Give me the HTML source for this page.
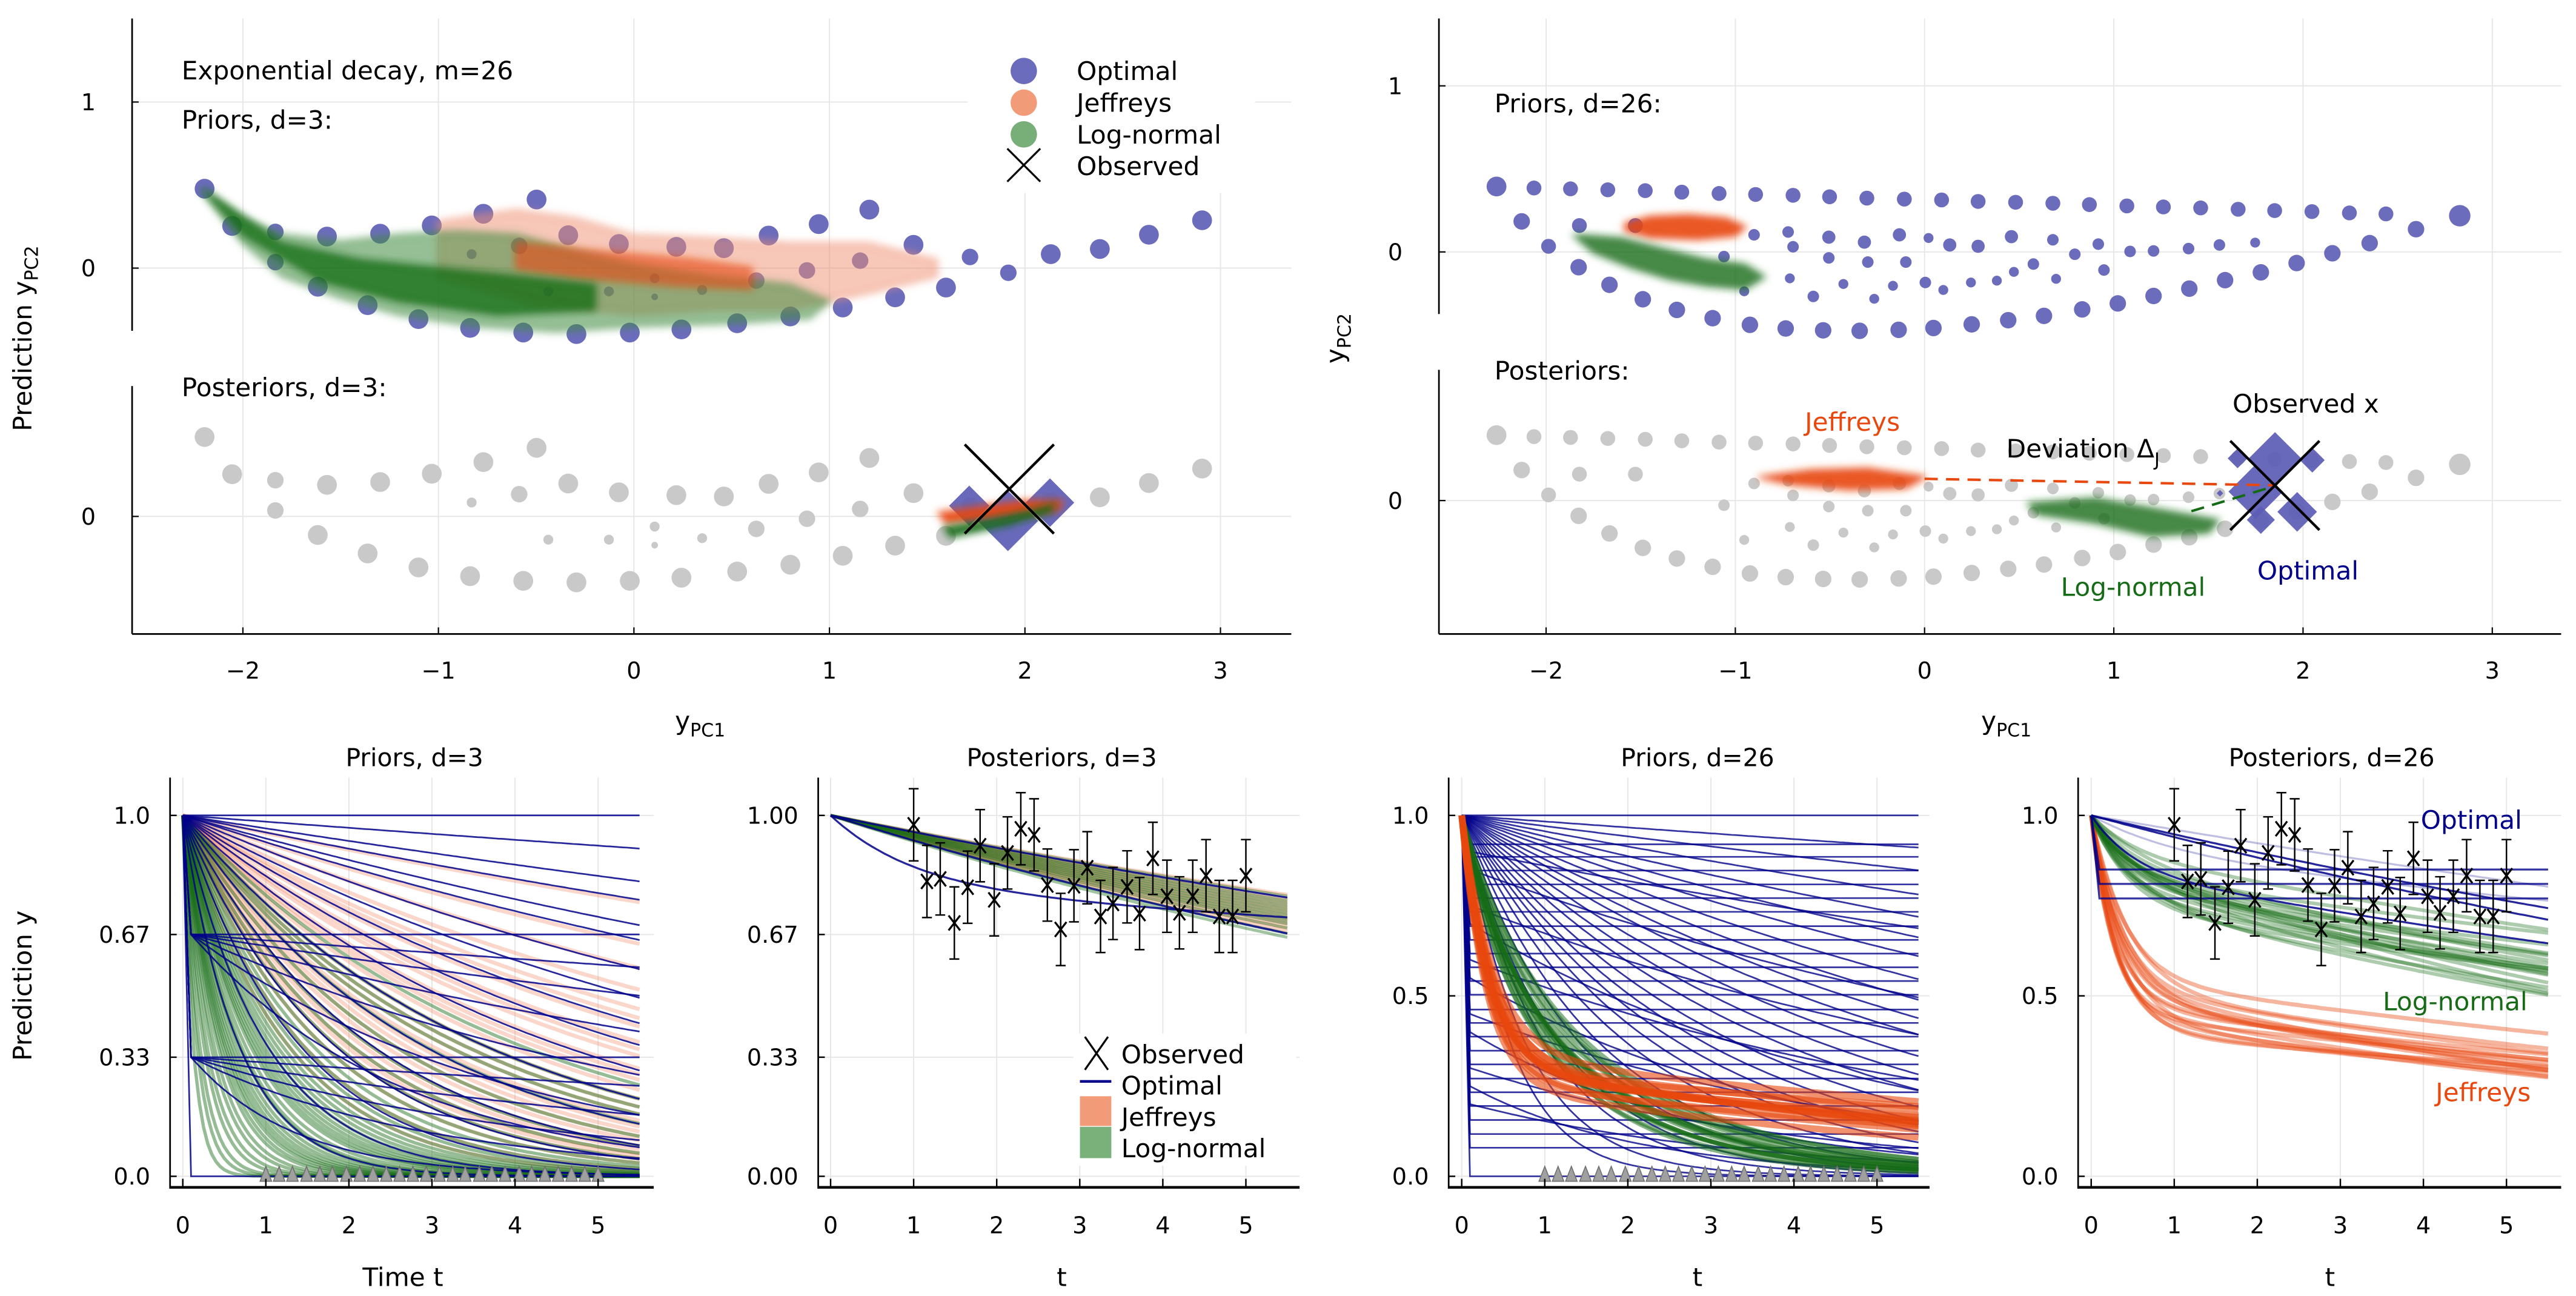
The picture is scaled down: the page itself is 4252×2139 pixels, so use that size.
<!DOCTYPE html>
<html><head><meta charset="utf-8">
<style>
html,body{margin:0;padding:0;background:#fff}
svg{display:block}
text{font-family:"DejaVu Sans","Liberation Sans",sans-serif;fill:#000}
</style></head>
<body>
<svg id="fig" xmlns="http://www.w3.org/2000/svg" width="4252" height="2139" viewBox="0 0 1560 785" preserveAspectRatio="none">
<defs><filter id="soft" x="-20%" y="-50%" width="140%" height="200%"><feGaussianBlur stdDeviation="2.2"/></filter></defs>
<rect x="0" y="0" width="1560" height="785" fill="#fff"/>
<g id="grid"></g>
<g id="marks"></g>
<g id="axes"></g>
<g id="labels">
  <text x="110" y="48" font-size="15.5">Exponential decay, m=26</text>
  <text x="110" y="78" font-size="15.5">Priors, d=3:</text>
  <text x="110" y="240" font-size="15.5">Posteriors, d=3:</text>
  <text x="905" y="68" font-size="15.5">Priors, d=26:</text>
  <text x="905" y="230" font-size="15.5">Posteriors:</text>
  <text x="1352" y="250" font-size="15.5">Observed x</text>
  <text x="1215" y="277" font-size="15.5">Deviation Δ<tspan dy="5" font-size="11">J</tspan></text>
  <text x="1093" y="261" font-size="15.5" style="fill:#e8470e">Jeffreys</text>
  <text x="1248" y="361" font-size="15.5" style="fill:#176b17">Log-normal</text>
  <text x="1367" y="351" font-size="15.5" style="fill:#00008b">Optimal</text>
  <text transform="translate(19,205) rotate(-90)" text-anchor="middle" font-size="15.5">Prediction y<tspan dy="4" font-size="11">PC2</tspan></text>
  <text transform="translate(814,205) rotate(-90)" text-anchor="middle" font-size="15.5">y<tspan dy="4" font-size="11">PC2</tspan></text>
  <text x="424" y="442" text-anchor="middle" font-size="15.5">y<tspan dy="4" font-size="11">PC1</tspan></text>
  <text x="1215" y="442" text-anchor="middle" font-size="15.5">y<tspan dy="4" font-size="11">PC1</tspan></text>
  <text x="251" y="464" text-anchor="middle" font-size="15">Priors, d=3</text>
  <text x="643" y="464" text-anchor="middle" font-size="15">Posteriors, d=3</text>
  <text x="1028" y="464" text-anchor="middle" font-size="15">Priors, d=26</text>
  <text x="1412" y="464" text-anchor="middle" font-size="15">Posteriors, d=26</text>
  <text x="244" y="779" text-anchor="middle" font-size="15.5">Time t</text>
  <text x="643" y="779" text-anchor="middle" font-size="15.5">t</text>
  <text x="1028" y="779" text-anchor="middle" font-size="15.5">t</text>
  <text x="1411" y="779" text-anchor="middle" font-size="15.5">t</text>
  <text transform="translate(19,597) rotate(-90)" text-anchor="middle" font-size="15.5">Prediction y</text>
  <text x="1466" y="502" font-size="15.5" style="fill:#00008b">Optimal</text>
  <text x="1443" y="612" font-size="15.5" style="fill:#176b17">Log-normal</text>
  <text x="1475" y="667" font-size="15.5" style="fill:#e8470e">Jeffreys</text>
</g>
<g id="legends"></g>
</svg>
<script>
// ---------- DATA ----------
const tlOptX=[-2.196,-2.055,-1.834,-1.834,-1.570,-1.617,-1.298,-1.362,-1.034,-1.102,-0.770,-0.838,-0.498,-0.566,-0.587,-0.336,-0.294,-0.077,-0.021,0.217,0.243,0.460,0.528,0.626,0.689,0.800,0.885,0.945,1.068,1.157,1.204,1.336,1.430,1.596,1.719,1.915,2.132,2.383,2.634,2.906,-0.83,-0.438,-0.128,0.106,0.349,0.106];
const tlOptY=[0.478,0.254,0.218,0.036,0.190,-0.112,0.207,-0.223,0.257,-0.307,0.327,-0.360,0.413,-0.388,0.134,0.198,-0.397,0.145,-0.388,0.128,-0.369,0.120,-0.332,-0.075,0.196,-0.291,-0.014,0.265,-0.237,0.045,0.352,-0.176,0.140,-0.117,0.067,-0.028,0.084,0.115,0.201,0.288,0.084,-0.14,-0.14,-0.061,-0.131,-0.173];
const tlOptR=[6,6,5,5,6,6,6,6,6,6,6,6,6,6,5,6,6,6,6,6,6,6,6,5,6,6,5,6,6,5,6,6,6,6,5,5,6,6,6,6,3,3,3,3,3,2];
const tlJeffCloudX=[-1.0,-0.6,-0.3,0.0,0.4,0.8,1.2,1.55,1.55,1.2,0.8,0.4,0.0,-0.5,-1.0];
const tlJeffCloudY=[0.28,0.35,0.30,0.20,0.18,0.15,0.15,0.05,-0.05,-0.15,-0.25,-0.25,-0.28,-0.22,-0.05];
const tlJeffCoreX=[-0.6,-0.2,0.3,0.6,0.6,0.2,-0.3,-0.6];
const tlJeffCoreY=[0.15,0.10,0.05,0.0,-0.12,-0.10,-0.05,0.0];
const tlLogCloudX=[-2.2,-2.0,-1.8,-1.5,-1.2,-0.9,-0.6,-0.3,0.0,0.4,0.8,1.0,0.9,0.5,0.0,-0.4,-0.8,-1.2,-1.5,-1.8,-2.0,-2.2];
const tlLogCloudY=[0.47,0.30,0.20,0.16,0.20,0.22,0.20,0.10,0.02,-0.05,-0.10,-0.20,-0.30,-0.33,-0.35,-0.38,-0.35,-0.28,-0.18,-0.05,0.15,0.45];
const tlLogCoreX=[-2.2,-1.8,-1.4,-1.0,-0.6,-0.2,-0.2,-0.7,-1.2,-1.6,-2.0];
const tlLogCoreY=[0.47,0.15,0.05,0.0,-0.05,-0.10,-0.25,-0.28,-0.20,-0.08,0.20];
const tlPostJeffX=[1.56,1.8,2.0,2.19,2.17,1.9,1.6];
const tlPostJeffY=[0.02,0.06,0.09,0.09,0.04,0.0,-0.04];
const tlPostLogX=[1.59,1.8,2.0,2.15,2.13,1.9,1.62];
const tlPostLogY=[-0.07,-0.03,0.02,0.07,0.03,-0.05,-0.12];
const tlDiaX=[1.715,1.913,2.128];
const tlDiaY=[0.064,-0.027,0.083];
const tlDiaS=[12.2,18.3,14.7];
const tlObsX=[1.92], tlObsY=[0.165];
const trOptX=[-2.262,-2.064,-1.871,-1.674,-1.476,-1.283,-1.086,-0.893,-0.695,-0.502,-0.305,-0.107,0.090,0.283,0.481,0.678,0.871,1.069,1.262,1.459,1.657,1.850,2.047,2.245,2.438,2.828,
 -2.129,-1.824,-1.528,-1.060,-0.901,-0.721,-0.695,-0.506,-0.506,-0.318,-0.300,-0.133,-0.099,0.021,0.133,0.283,0.459,0.575,0.678,0.794,0.918,0.948,1.086,1.210,1.395,1.558,1.747,
 -1.987,-1.828,-1.665,-1.489,-1.309,-1.120,-0.923,-0.734,-0.536,-0.343,-0.137,0.047,0.249,0.442,0.631,0.833,1.021,1.210,1.399,1.588,1.777,1.966,2.155,2.352,2.597,
 -0.953,-0.712,-0.588,-0.429,-0.266,-0.167,0.004,0.099,0.245,0.382,0.472,0.695];
const trOptY=[0.394,0.385,0.380,0.374,0.369,0.360,0.352,0.346,0.341,0.332,0.324,0.318,0.313,0.304,0.299,0.293,0.285,0.277,0.271,0.265,0.257,0.249,0.243,0.235,0.229,0.218,
 0.184,0.159,0.159,-0.028,0.103,0.120,0.031,0.089,-0.036,0.059,-0.061,0.103,-0.061,0.084,0.042,0.034,0.092,-0.073,0.073,-0.014,0.047,-0.109,0.003,0.006,0.020,0.042,0.056,
 0.034,-0.092,-0.198,-0.285,-0.349,-0.399,-0.439,-0.461,-0.472,-0.475,-0.469,-0.458,-0.436,-0.411,-0.385,-0.346,-0.310,-0.265,-0.221,-0.170,-0.123,-0.067,-0.008,0.053,0.137,
 -0.237,-0.159,-0.268,-0.193,-0.282,-0.204,-0.184,-0.229,-0.184,-0.173,-0.120,-0.162];
const trOptR=[6,4.5,4.5,4.5,4.5,4.5,4.5,4.5,4.5,4.5,4.5,4.5,4.5,4.5,4.5,4.5,4.5,4.5,4.5,4.5,4.5,4.5,4.5,4.5,4.5,6.5,
 5,4.5,4.5,3.5,3.5,3.5,3.5,4,3.5,4,3.5,4,3.5,3,4,4,4,3.5,3.5,3.5,3.5,3.5,3.5,3.5,3.5,3.5,3,
 4.5,5,5,5,5,5,5,5,5,5,5,5,5,5,5,5,5,5,5,5,5,5,5,5,5,
 3,3,3.5,3,3,3,3.5,3,3,3,3,3];
const trJeffCloudX=[-1.58,-1.45,-1.25,-1.05,-0.95,-1.0,-1.2,-1.45,-1.58];
const trJeffCloudY=[0.17,0.21,0.22,0.20,0.15,0.10,0.08,0.09,0.13];
const trLogCloudX=[-1.85,-1.6,-1.4,-1.15,-0.95,-0.85,-0.95,-1.15,-1.35,-1.55,-1.75];
const trLogCloudY=[0.10,0.08,0.02,-0.05,-0.08,-0.15,-0.22,-0.20,-0.16,-0.09,0.0];
const trPostJeffX=[-0.87,-0.6,-0.3,0.0,-0.1,-0.4,-0.7];
const trPostJeffY=[0.14,0.18,0.19,0.14,0.08,0.07,0.10];
const trPostLogX=[0.55,0.9,1.2,1.55,1.5,1.2,0.9,0.6];
const trPostLogY=[-0.02,0.01,-0.05,-0.12,-0.19,-0.21,-0.13,-0.08];
const trDiaX=[1.852,1.750,1.654,2.049,1.777,1.969,1.561];
const trDiaY=[0.254,0.054,0.254,0.243,-0.116,-0.068,0.044];
const trDiaS=[15.9,16.5,6,7.5,8.5,12,2];
const trObsX=[1.851], trObsY=[0.091];
const trDevJeffX=[0.0,1.85], trDevJeffY=[0.131,0.092];
const trDevLogX=[1.41,1.85], trDevLogY=[-0.064,0.087];
const obsT=[1.0,1.16,1.32,1.49,1.65,1.80,1.97,2.13,2.29,2.45,2.61,2.77,2.93,3.09,3.25,3.40,3.57,3.72,3.88,4.05,4.20,4.36,4.52,4.68,4.84,5.0];
const obsY=[0.974,0.817,0.824,0.702,0.801,0.916,0.766,0.896,0.963,0.946,0.807,0.684,0.805,0.855,0.720,0.756,0.802,0.728,0.881,0.776,0.730,0.776,0.833,0.720,0.720,0.833];
const obsErr=[0.1,0.1,0.1,0.1,0.1,0.1,0.1,0.1,0.1,0.1,0.1,0.1,0.1,0.1,0.1,0.1,0.1,0.1,0.1,0.1,0.1,0.1,0.1,0.1,0.1,0.1];
const aBlueP=[1,1,1,1,1,1,1,1,1,1,1,1,1,1,1,1,1,1,0.67,0.67,0.67,0.67,0.67,0.67,0.67,0.33,0.33,0.33,0.33,0.33,0.33,0];
const aBlueK=[0,0.0175,0.0367,0.0484,0.066,0.077,0.101,0.128,0.156,0.184,0.223,0.28,0.351,0.446,0.555,0.72,1.0,1.5,0,0.027,0.054,0.095,0.161,0.254,0.393,0,0.051,0.123,0.221,0.349,0.8,0];
const aLogK=[0.3,0.4,0.5,0.6,0.7,0.8,0.9,1.0,1.1,1.2,1.35,1.5,1.7,1.9,2.1,2.4,2.7,3,3.5,4,5,6,8,0.35,0.45,0.55,0.65,0.75,0.85,0.95,1.05,1.15,1.25,1.45,1.6,1.8,2.0,2.25,0.25,0.28,0.32];
const aJeffK=[0.05,0.08,0.1,0.12,0.15,0.18,0.2,0.23,0.26,0.3,0.34,0.38,0.42,0.47,0.52,0.6,0.7,0.8,0.14,0.22,0.28,0.16,0.19,0.24,0.32,0.36,0.4,0.45,0.5,0.55];
const bJeffK=[0.045,0.048,0.05,0.052,0.054,0.056,0.058,0.06,0.062,0.064,0.066,0.068,0.07];
const bLogK=[0.046,0.049,0.051,0.053,0.055,0.057,0.059,0.061,0.063,0.065,0.068,0.072,0.075];
const bBlueA=[0,0.2,0];
const bBlueK1=[0,1.0,0];
const bBlueK2=[0.047,0.02,0.072];
const cBlueP=[0.92,0.885,0.847,0.809,0.771,0.733,0.693,0.655,0.617,0.579,0.541,0.503,0.462,0.425,0.387,0.348,0.310,0.271,0.233,0.195,0.156,0.117,0.079,0,
 1,1,1,1,1,1,1,1,1,1,1,1,1,1,1,1,1,1,1,1,1,1,1,1,1,
 0.9,0.85,0.75,0.7,0.6,0.55,0.45,0.4,0.3,0.25,0.2];
const cBlueK=[0,0,0,0,0,0,0,0,0,0,0,0,0,0,0,0,0,0,0,0,0,0,0,0,
 0,0.017,0.03,0.045,0.06,0.075,0.09,0.11,0.13,0.15,0.17,0.2,0.23,0.26,0.3,0.34,0.38,0.43,0.5,0.6,0.7,0.85,1.0,1.3,1.7,
 0.05,0.1,0.12,0.2,0.15,0.25,0.2,0.35,0.25,0.5,0.3];
const cLogA=[0.3,0.28,0.32,0.26,0.34,0.3,0.29,0.31,0.27,0.33,0.3,0.28,0.32,0.35,0.25,0.3];
const cLogK1=[2,1.8,2.2,1.6,2.4,2.1,1.9,2.3,1.7,2.5,2.0,2.2,1.8,2.6,1.5,2.0];
const cLogK2=[0.6,0.55,0.65,0.5,0.7,0.58,0.62,0.52,0.68,0.56,0.75,0.6,0.48,0.64,0.54,0.66];
const cJeffA=[0.7,0.68,0.72,0.66,0.74,0.7,0.69,0.71,0.67,0.73,0.7,0.68];
const cJeffK1=[3,2.8,3.2,2.6,3.4,3,2.9,3.1,2.7,3.3,3,3.2];
const cJeffK2=[0.12,0.1,0.14,0.09,0.16,0.11,0.13,0.1,0.15,0.12,0.08,0.14];
const dBlueP=[0.85,0.81,0.77];
const dBlueA=[0,0,0.15,0,0.1];
const dBlueK1=[0,0,2,0,1];
const dBlueK2=[0.054,0.062,0.05,0.04,0.03];
const dLogA=[0.1,0.12,0.15,0.18,0.2,0.22,0.25,0.14,0.17,0.19,0.23,0.11,0.16,0.21,0.13,0.24,0.18,0.15,0.2,0.12];
const dLogK1=[2,1.5,2.5,3,2,1.8,2.2,2.8,1.6,2.4,2,3,1.7,2.6,2.1,1.9,2.3,2.7,1.5,2.9];
const dLogK2=[0.05,0.07,0.06,0.07,0.04,0.08,0.05,0.06,0.09,0.05,0.07,0.1,0.04,0.06,0.08,0.05,0.06,0.07,0.06,0.09];
const dJeffA=[0.5,0.45,0.55,0.48,0.52,0.6,0.47,0.53,0.5,0.57,0.46,0.51,0.55,0.49,0.58];
const dJeffK1=[3,2.5,3.5,2.2,4,3,2.8,3.2,3.6,2.6,3.1,2.4,3.8,2.9,3.3];
const dJeffK2=[0.08,0.06,0.09,0.07,0.1,0.05,0.08,0.06,0.09,0.07,0.11,0.08,0.06,0.1,0.07];
const topXTicks=[-2,-1,0,1,2,3];
const topXTickLabels=["−2","−1","0","1","2","3"];
const tTicks=[0,1,2,3,4,5];
const abYTicks=[0,0.33,0.67,1.0];
const aYTickLabels=["0.0","0.33","0.67","1.0"];
const bYTickLabels=["0.00","0.33","0.67","1.00"];
const cdYTicks=[0,0.5,1.0];
const cdYTickLabels=["0.0","0.5","1.0"];

// ---------- HELPERS ----------
const NS='http://www.w3.org/2000/svg';
const G=document.getElementById('grid'), M=document.getElementById('marks'), A=document.getElementById('axes'), L=document.getElementById('legends');
function mk(parent,tag,attrs){const e=document.createElementNS(NS,tag);for(const k in attrs)e.setAttribute(k,attrs[k]);parent.appendChild(e);return e;}
const NAVY='#00008b', OPT='#5c5cb5', JEF='#e8470e', JEFL='#f09070', LOG='#156b15', GREY='#c9c9c9';

const TL={x:v=>383.9+v*118.4, yU:v=>162.4-v*100.6, yL:v=>312.8-v*100.6, ax:80, xEnd:782, u0:11.2,u1:200.4,l0:233.8,l1:384, yTicksU:[[1,'1'],[0,'0']], yTicksL:[[0,'0']]};
const TR={x:v=>1165.5+v*114.6, yU:v=>152.6-v*100.6, yL:v=>303.2-v*100.6, ax:871.4, xEnd:1551, u0:11.2,u1:190.2,l0:224,l1:384, yTicksU:[[1,'1'],[0,'0']], yTicksL:[[0,'0']]};

function topAxes(P,prefix){
  topXTicks.forEach((v,i)=>{
    const gl=mk(G,'line',{x1:P.x(v),x2:P.x(v),y1:P.u0,y2:P.l1,stroke:'#e6e6e6','stroke-width':0.7});
    
    
    const tk=mk(A,'line',{x1:P.x(v),x2:P.x(v),y1:P.l1,y2:P.l1-4,stroke:'#000','stroke-width':0.8});
    
    
    const t=mk(A,'text',{x:P.x(v),y:P.l1+27,'text-anchor':'middle','font-size':14});
    t.textContent=topXTickLabels[i];
    
    
  });
  [[P.yTicksU,P.yU],[P.yTicksL,P.yL]].forEach(([ticks,sy])=>{
    ticks.forEach(([v,lab])=>{
      const gl=mk(G,'line',{x1:P.ax,x2:P.xEnd,y1:sy(v),y2:sy(v),stroke:'#e6e6e6','stroke-width':0.7});
      
      
      const tk=mk(A,'line',{x1:P.ax,x2:P.ax+4,y1:sy(v),y2:sy(v),stroke:'#000','stroke-width':0.8});
      
      
      const t=mk(A,'text',{x:P.ax-22,y:sy(v)+5,'text-anchor':'end','font-size':14});
      t.textContent=lab;
      
      
    });
  });
  const a1=mk(A,'line',{x1:P.ax,x2:P.ax,y1:P.u0,y2:P.u1,stroke:'#000','stroke-width':1});
  
  
  const a2=mk(A,'line',{x1:P.ax,x2:P.ax,y1:P.l0,y2:P.l1,stroke:'#000','stroke-width':1});
  
  
  const a3=mk(A,'line',{x1:P.ax,x2:P.xEnd,y1:P.l1,y2:P.l1,stroke:'#000','stroke-width':1});
  
  
}
topAxes(TL,'tl');
topAxes(TR,'tr');

function poly(P,sy,xs,ys,fill,op,name){
  const pts=xs.map((x,i)=>P.x(x).toFixed(1)+','+sy(ys[i]).toFixed(1)).join(' ');
  const e=mk(M,'polygon',{points:pts,fill:fill,'fill-opacity':op,stroke:fill,'stroke-opacity':op*0.6,'stroke-width':3,'stroke-linejoin':'round',filter:'url(#soft)'});
  
  
}
function dots(P,sy,xs,ys,rs,fill,op,name){
  xs.forEach((x,i)=>{
    const c=mk(M,'circle',{cx:P.x(x),cy:sy(ys[i]),r:rs[i],fill:fill,'fill-opacity':op});
    
    
  });
}
function diamonds(P,sy,xs,ys,ss,name){
  xs.forEach((x,i)=>{
    const cx=P.x(x), cy=sy(ys[i]), s=ss[i];
    const d=mk(M,'polygon',{points:`${cx},${cy-s} ${cx+s},${cy} ${cx},${cy+s} ${cx-s},${cy}`,fill:OPT,'fill-opacity':0.92});
    
    
  });
}
function cross(P,sy,x,y,hx,hy,w,name){
  const cx=P.x(x), cy=sy(y);
  const p=mk(M,'path',{d:`M${cx-hx},${cy-hy}L${cx+hx},${cy+hy}M${cx+hx},${cy-hy}L${cx-hx},${cy+hy}`,stroke:'#000','stroke-width':w,fill:'none'});
  
  
}

// ---------- TOP-LEFT ----------
dots(TL,TL.yL,tlOptX,tlOptY,tlOptR,GREY,1,'tl-posterior-background-point');
dots(TL,TL.yU,tlOptX,tlOptY,tlOptR,OPT,0.9,'tl-optimal-prior-point');
poly(TL,TL.yU,tlJeffCloudX,tlJeffCloudY,JEFL,0.5,'tl-jeffreys-prior-cloud');
poly(TL,TL.yU,tlLogCloudX,tlLogCloudY,'#3f8a3f',0.55,'tl-lognormal-prior-cloud');
poly(TL,TL.yU,tlJeffCoreX,tlJeffCoreY,JEF,0.6,'tl-jeffreys-prior-core');
poly(TL,TL.yU,tlLogCoreX,tlLogCoreY,LOG,0.75,'tl-lognormal-prior-core');
diamonds(TL,TL.yL,tlDiaX,tlDiaY,tlDiaS,'tl-optimal-posterior-diamond');
poly(TL,TL.yL,tlPostJeffX,tlPostJeffY,JEF,0.9,'tl-jeffreys-posterior');
poly(TL,TL.yL,tlPostLogX,tlPostLogY,LOG,0.95,'tl-lognormal-posterior');
cross(TL,TL.yL,tlObsX[0],tlObsY[0],27,27,1.6,'tl-observed-marker');

// ---------- TOP-RIGHT ----------
dots(TR,TR.yL,trOptX,trOptY,trOptR,GREY,1,'tr-posterior-background-point');
dots(TR,TR.yU,trOptX,trOptY,trOptR,OPT,0.9,'tr-optimal-prior-point');
poly(TR,TR.yU,trJeffCloudX,trJeffCloudY,JEF,0.9,'tr-jeffreys-prior-cloud');
poly(TR,TR.yU,trLogCloudX,trLogCloudY,LOG,0.8,'tr-lognormal-prior-cloud');
poly(TR,TR.yL,trPostJeffX,trPostJeffY,JEF,0.9,'tr-jeffreys-posterior');
poly(TR,TR.yL,trPostLogX,trPostLogY,LOG,0.8,'tr-lognormal-posterior');
diamonds(TR,TR.yL,trDiaX,trDiaY,trDiaS,'tr-optimal-posterior-diamond');
(function(){
  const l1=mk(M,'line',{x1:TR.x(trDevJeffX[0]),y1:TR.yL(trDevJeffY[0]),x2:TR.x(trDevJeffX[1]),y2:TR.yL(trDevJeffY[1]),stroke:JEF,'stroke-width':1.5,'stroke-dasharray':'8,5'});
  
  
  const l2=mk(M,'line',{x1:TR.x(trDevLogX[0]),y1:TR.yL(trDevLogY[0]),x2:TR.x(trDevLogX[1]),y2:TR.yL(trDevLogY[1]),stroke:LOG,'stroke-width':1.5,'stroke-dasharray':'8,5'});
  
  
})();
cross(TR,TR.yL,trObsX[0],trObsY[0],27,27,1.6,'tr-observed-marker');

// TL legend
(function(){
  const bg=mk(L,'rect',{x:586,y:11,width:174,height:106,fill:'#fff'});
  
  
  const items=[['Optimal',OPT,0.9],['Jeffreys','#f29b78',1],['Log-normal','#78ae78',1]];
  items.forEach((it,i)=>{
    const y=43+i*19.2;
    const c=mk(L,'circle',{cx:620,cy:y,r:8,fill:it[1],'fill-opacity':it[2]});
    
    
    const t=mk(L,'text',{x:652,y:y+5.5,'font-size':15.5});
    t.textContent=it[0];
    
    
  });
  const x=mk(L,'path',{d:'M610,90L630,110M630,90L610,110',stroke:'#000','stroke-width':1.2,fill:'none'});
  
  
  const t=mk(L,'text',{x:652,y:106,'font-size':15.5});
  t.textContent='Observed';
  
  
})();

// ---------- BOTTOM PANELS ----------
const yB=v=>712.5-v*218.6;
const PA={ax:103,t0:110.7,xEnd:395.9}, PB={ax:495.5,t0:503,xEnd:787}, PC={ax:877.3,t0:885.2,xEnd:1168.5}, PD={ax:1258.5,t0:1266.4,xEnd:1551};
[PA,PB,PC,PD].forEach(P=>{P.x=t=>P.t0+t*50.3;});

function bottomAxes(P,prefix,yt,ylab){
  tTicks.forEach(v=>{
    const gl=mk(G,'line',{x1:P.x(v),x2:P.x(v),y1:471,y2:719,stroke:'#e6e6e6','stroke-width':0.7});
    
    
    const tk=mk(A,'line',{x1:P.x(v),x2:P.x(v),y1:719,y2:714,stroke:'#000','stroke-width':0.9});
    
    
    const t=mk(A,'text',{x:P.x(v),y:747,'text-anchor':'middle','font-size':14});
    t.textContent=String(v);
    
    
  });
  yt.forEach((v,i)=>{
    const gl=mk(G,'line',{x1:P.ax,x2:P.xEnd,y1:yB(v),y2:yB(v),stroke:'#e6e6e6','stroke-width':0.7});
    
    
    const tk=mk(A,'line',{x1:P.ax,x2:P.ax+4,y1:yB(v),y2:yB(v),stroke:'#000','stroke-width':0.9});
    
    
    const t=mk(A,'text',{x:P.ax-12,y:yB(v)+5,'text-anchor':'end','font-size':14});
    t.textContent=ylab[i];
    
    
  });
  const a1=mk(A,'line',{x1:P.ax,x2:P.ax,y1:471,y2:720,stroke:'#000','stroke-width':1});
  
  
  const a2=mk(A,'line',{x1:P.ax,x2:P.xEnd,y1:719.2,y2:719.2,stroke:'#000','stroke-width':1.6});
  
  
}
bottomAxes(PA,'panel-a',abYTicks,aYTickLabels);
bottomAxes(PB,'panel-b',abYTicks,bYTickLabels);
bottomAxes(PC,'panel-c',cdYTicks,cdYTickLabels);
bottomAxes(PD,'panel-d',cdYTicks,cdYTickLabels);

const TS=[]; for(let t=0;t<=5.5001;t+=0.05) TS.push(+t.toFixed(3));
function biPath(P,a,k1,k2){
  return TS.map((t,i)=>(i?'L':'M')+P.x(t).toFixed(1)+','+yB(a*Math.exp(-k1*t)+(1-a)*Math.exp(-k2*t)).toFixed(1)).join('');
}
function platPath(P,p,k){
  if(p>=1) return biPath(P,0,0,k);
  let d='M'+P.x(0)+','+yB(1);
  TS.forEach(t=>{ if(t>=0.1) d+='L'+P.x(t).toFixed(1)+','+yB(p*Math.exp(-k*(t-0.1))).toFixed(1); });
  return d;
}
function curve(d,color,op,w,name){
  const p=mk(M,'path',{d:d,stroke:color,'stroke-opacity':op,'stroke-width':w,fill:'none'});
  
  
}
function triangles(P,name){
  obsT.forEach(t=>{
    const x=P.x(t), y=yB(0);
    const tr=mk(M,'polygon',{points:`${x},${y-6} ${x+3.5},${y+3} ${x-3.5},${y+3}`,fill:'#a0a0a0',stroke:'#707070','stroke-width':0.6});
    
    
  });
}
function observations(P,name){
  obsT.forEach((t,i)=>{
    const x=P.x(t), y=yB(obsY[i]), y1=yB(obsY[i]+obsErr[i]), y2=yB(obsY[i]-obsErr[i]);
    const e=mk(M,'path',{d:`M${x},${y1}L${x},${y2}M${x-3},${y1}L${x+3},${y1}M${x-3},${y2}L${x+3},${y2}`,stroke:'#000','stroke-width':0.9,fill:'none'});
    
    
    const c=mk(M,'path',{d:`M${x-3.5},${y-4.5}L${x+3.5},${y+4.5}M${x+3.5},${y-4.5}L${x-3.5},${y+4.5}`,stroke:'#000','stroke-width':1.2,fill:'none'});
    
    
  });
}

// Panel A
aJeffK.forEach(k=>curve(biPath(PA,0,0,k),'#f07a50',0.3,2.4,'panel-a-jeffreys-curve'));
aLogK.forEach(k=>curve(biPath(PA,0,0,k),LOG,0.45,2,'panel-a-lognormal-curve'));
aBlueP.forEach((p,i)=>curve(platPath(PA,p,aBlueK[i]),NAVY,0.85,1,'panel-a-optimal-curve'));
triangles(PA,'panel-a-observation-time');
// Panel B
bJeffK.forEach(k=>curve(biPath(PB,0,0,k),'#f07a50',0.35,1.8,'panel-b-jeffreys-curve'));
bLogK.forEach(k=>curve(biPath(PB,0,0,k),LOG,0.4,1.8,'panel-b-lognormal-curve'));
bBlueA.forEach((a,i)=>curve(biPath(PB,a,bBlueK1[i],bBlueK2[i]),NAVY,0.85,1.2,'panel-b-optimal-curve'));
observations(PB,'panel-b-observed');
// Panel C
cBlueP.forEach((p,i)=>curve(platPath(PC,p,cBlueK[i]),NAVY,0.8,1,'panel-c-optimal-curve'));
cLogA.forEach((a,i)=>curve(biPath(PC,a,cLogK1[i],cLogK2[i]),LOG,0.5,2.6,'panel-c-lognormal-curve'));
cJeffA.forEach((a,i)=>curve(biPath(PC,a,cJeffK1[i],cJeffK2[i]),JEF,0.6,4,'panel-c-jeffreys-curve'));
triangles(PC,'panel-c-observation-time');
// Panel D
dJeffA.forEach((a,i)=>curve(biPath(PD,a,dJeffK1[i],dJeffK2[i]),JEF,0.4,2.5,'panel-d-jeffreys-curve'));
dLogA.forEach((a,i)=>curve(biPath(PD,a,dLogK1[i],dLogK2[i]),LOG,0.35,2.2,'panel-d-lognormal-curve'));
dBlueP.forEach(p=>curve(platPath(PD,p,0),NAVY,0.8,1.2,'panel-d-optimal-plateau'));
dBlueA.forEach((a,i)=>curve(biPath(PD,a,dBlueK1[i],dBlueK2[i]),NAVY,i<3?0.85:0.25,1.2,'panel-d-optimal-curve'));
observations(PD,'panel-d-observed');

// Panel B legend
(function(){
  const bg=mk(L,'rect',{x:650,y:626,width:135,height:80,fill:'#fff'});
  
  
  const x=mk(L,'path',{d:'M657,628L671,648M671,628L657,648',stroke:'#000','stroke-width':1.2,fill:'none'});
  
  
  const ln=mk(L,'line',{x1:654,x2:673,y1:655,y2:655,stroke:NAVY,'stroke-width':1.6});
  
  
  const r1=mk(L,'rect',{x:654,y:664,width:19,height:18,fill:'#f29b78'});
  
  
  const r2=mk(L,'rect',{x:654,y:682.5,width:19,height:19,fill:'#7ab07a'});
  
  
  ['Observed','Optimal','Jeffreys','Log-normal'].forEach((s,i)=>{
    const t=mk(L,'text',{x:679,y:644+i*19,'font-size':15.5});
    t.textContent=s;
    
    
  });
})();
</script>
</body></html>
